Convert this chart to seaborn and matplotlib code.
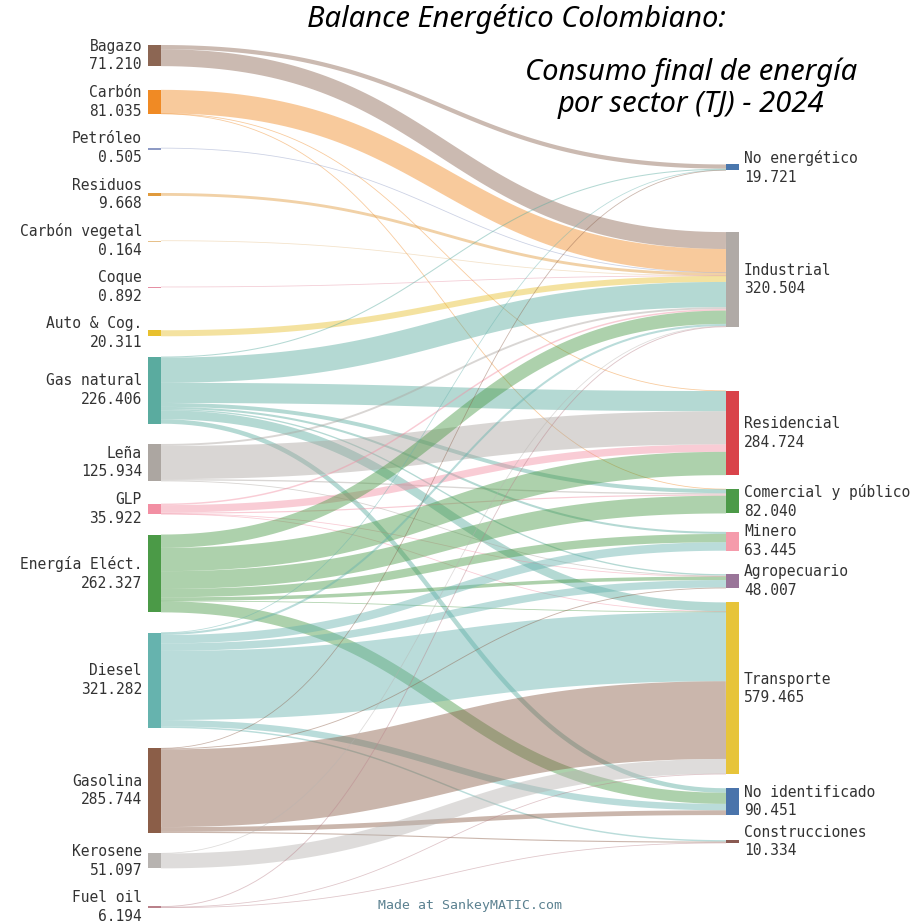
import numpy as np
import matplotlib
matplotlib.use("Agg")
import matplotlib.pyplot as plt
import seaborn as sns

# ---- data (TJ) ----
sources = ["Bagazo", "Carbón", "Petróleo", "Residuos", "Carbón vegetal", "Coque",
           "Auto & Cog.", "Gas natural", "Leña", "GLP", "Energía Eléct.", "Diesel",
           "Gasolina", "Kerosene", "Fuel oil"]
source_totals = [71.210, 81.035, 0.505, 9.668, 0.164, 0.892, 20.311, 226.406,
                 125.934, 35.922, 262.327, 321.282, 285.744, 51.097, 6.194]

sectors = ["No energético", "Industrial", "Residencial", "Comercial y público",
           "Minero", "Agropecuario", "Transporte", "No identificado", "Construcciones"]
sector_totals = [19.721, 320.504, 284.724, 82.040, 63.445, 48.007, 579.465, 90.451, 10.334]

flow_from = (["Bagazo"] * 2 + ["Carbón"] * 3 + ["Petróleo", "Residuos", "Carbón vegetal",
             "Coque", "Auto & Cog."] + ["Gas natural"] * 8 + ["Leña"] * 4 + ["GLP"] * 5
             + ["Energía Eléct."] * 7 + ["Diesel"] * 7 + ["Gasolina"] * 5
             + ["Kerosene"] * 2 + ["Fuel oil"] * 3)
flow_to = ["No energético", "Industrial",
           "Industrial", "Residencial", "Comercial y público",
           "Industrial", "Industrial", "Industrial", "Industrial", "Industrial",
           "No energético", "Industrial", "Residencial", "Comercial y público", "Minero",
           "Agropecuario", "Transporte", "No identificado",
           "Industrial", "Residencial", "Comercial y público", "Agropecuario",
           "Industrial", "Residencial", "Comercial y público", "Agropecuario", "Transporte",
           "Industrial", "Residencial", "Comercial y público", "Minero", "Agropecuario",
           "Transporte", "No identificado",
           "No energético", "Industrial", "Minero", "Agropecuario", "Transporte",
           "No identificado", "Construcciones",
           "No energético", "Agropecuario", "Transporte", "No identificado", "Construcciones",
           "Industrial", "Transporte",
           "Industrial", "Transporte", "Construcciones"]
flow_tj = [14.221, 56.989,
           79.500, 1.200, 0.335,
           0.505, 9.668, 0.164, 0.892, 20.311,
           3.500, 85.000, 68.000, 13.180, 7.000, 4.500, 30.000, 15.226,
           6.475, 112.000, 4.525, 2.934,
           5.000, 25.000, 4.000, 0.500, 1.422,
           45.000, 78.524, 60.000, 28.000, 12.000, 1.300, 37.503,
           1.000, 7.000, 28.445, 25.073, 233.146, 21.722, 4.896,
           1.000, 3.000, 262.000, 16.000, 3.744,
           1.000, 50.097,
           3.000, 1.500, 1.694]

source_colors = ["#8c6653", "#f08a24", "#8d9ac4", "#e09a3c", "#e6c08a", "#e58fa3",
                 "#e8c02e", "#5aab9f", "#aca6a1", "#f28fa3", "#4b9a47", "#66b3ae",
                 "#8b5e48", "#b7b3b0", "#b9818a"]
sector_colors = ["#4a77ad", "#b0aaa6", "#d9434a", "#4c9a48", "#f59bab", "#9a7599",
                 "#e7c43a", "#4a74ab", "#8a5a52"]


def min_gaps(heights, pad, label_h):
    # nodes need `pad` between them, and their two-line labels must not collide
    return np.array([max(pad, label_h - (heights[i] + heights[i + 1]) / 2)
                     for i in range(len(heights) - 1)])


def isotonic(z):
    blocks = []
    for v in z:
        blocks.append([v, 1])
        while len(blocks) > 1 and blocks[-2][0] > blocks[-1][0]:
            v2, c2 = blocks.pop()
            v1, c1 = blocks.pop()
            blocks.append([(v1 * c1 + v2 * c2) / (c1 + c2), c1 + c2])
    out = []
    for v, c in blocks:
        out += [v] * c
    return np.array(out)


def sankey_layout(height, ky, pad, label_h):
    n_src = len(sources)
    flows = np.array(flow_tj, dtype=float)
    s_idx = np.array([sources.index(a) for a in flow_from])
    t_idx = np.array([sectors.index(b) for b in flow_to])
    width = flows * ky
    h_src = np.array(source_totals) * ky
    h_sec = np.array(sector_totals) * ky

    # left column: minimum gaps plus evenly shared slack
    g = min_gaps(h_src, pad, label_h)
    g += (height - h_src.sum() - g.sum()) / len(g)
    top_src = np.concatenate([[0], np.cumsum(h_src[:-1] + g)])

    # link offsets inside each node (links ordered by the node at the other end)
    src_off = np.zeros(len(flows))
    tgt_off = np.zeros(len(flows))
    for i in range(n_src):
        ks = sorted(np.where(s_idx == i)[0], key=lambda k: t_idx[k])
        src_off[ks] = np.concatenate([[0], np.cumsum(width[ks])[:-1]])
    for j in range(len(sectors)):
        ks = sorted(np.where(t_idx == j)[0], key=lambda k: s_idx[k])
        tgt_off[ks] = np.concatenate([[0], np.cumsum(width[ks])[:-1]])

    # right column: each node where its links would run flat, then resolve collisions
    link_top = top_src[s_idx] + src_off - tgt_off
    ideal = np.array([np.average(link_top[t_idx == j], weights=flows[t_idx == j])
                      for j in range(len(sectors))])
    g2 = min_gaps(h_sec, pad, label_h)
    offs = np.concatenate([[0], np.cumsum(h_sec[:-1] + g2)])
    z = np.clip(isotonic(ideal - offs), 0, height - offs[-1] - h_sec[-1])
    top_sec = z + offs

    sy = top_src[s_idx] + src_off + width / 2
    ty = top_sec[t_idx] + tgt_off + width / 2
    return top_src, h_src, top_sec, h_sec, s_idx, width, sy, ty


sns.set_theme(style="white")
plt.rcParams["font.family"] = ["DejaVu Sans"]

fig = plt.figure(figsize=(9.21, 9.23), dpi=100)
fig.patch.set_facecolor("white")
px_w, px_h = 921, 923
left_px, right_px, top_px, bottom_px = 148, 739, 45, 908
ax = fig.add_axes([left_px / px_w, 1 - bottom_px / px_h,
                   (right_px - left_px) / px_w, (bottom_px - top_px) / px_h])
H = bottom_px - top_px
ky = 0.515 * H / sum(source_totals)
top_src, h_src, top_sec, h_sec, s_idx, width, sy, ty = sankey_layout(H, ky, pad=14, label_h=40)

span = right_px - left_px
nw = 13 / span

# links (stroked cubic curves, like SVG paths)
t = np.linspace(0, 1, 80)
xs, xt = nw, 1 - nw
xm = (xs + xt) / 2
bx = (1 - t) ** 3 * xs + 3 * (1 - t) ** 2 * t * xm + 3 * (1 - t) * t ** 2 * xm + t ** 3 * xt
for k in range(len(flow_tj)):
    by = ((1 - t) ** 3 + 3 * (1 - t) ** 2 * t) * sy[k] + (3 * (1 - t) * t ** 2 + t ** 3) * ty[k]
    ax.plot(bx, by, color=source_colors[s_idx[k]], alpha=0.45,
            lw=max(width[k], 0.8) * 72 / 100, solid_capstyle="butt", zorder=1)

# nodes
ax.bar(np.zeros(len(sources)), np.maximum(h_src, 1.5), bottom=top_src, width=nw,
       align="edge", color=source_colors, edgecolor="none", zorder=2)
ax.bar(np.full(len(sectors), 1 - nw), np.maximum(h_sec, 1.5), bottom=top_sec, width=nw,
       align="edge", color=sector_colors, edgecolor="none", zorder=2)

# labels
label_font = dict(family="DejaVu Sans Mono", fontsize=10.5, color="#333333", linespacing=1.3)
for i, name in enumerate(sources):
    ax.text(-6 / span, top_src[i] + h_src[i] / 2, f"{name}\n{source_totals[i]:.3f}",
            ha="right", va="center", multialignment="right", **label_font)
for j, name in enumerate(sectors):
    ax.text(1 + 5 / span, top_sec[j] + h_sec[j] / 2, f"{name}\n{sector_totals[j]:.3f}",
            ha="left", va="center", multialignment="left", **label_font)

ax.set_xlim(0, 1)
ax.set_ylim(H, 0)
ax.axis("off")

title_font = dict(family=["Noto Sans", "DejaVu Sans"], style="italic", weight="medium",
                  fontsize=21, color="black")
fig.text(516 / px_w, 1 - 19 / px_h, "Balance Energético Colombiano:", ha="center", va="center",
         **title_font)
fig.text(691 / px_w, 1 - 88 / px_h, "Consumo final de energía\npor sector (TJ) - 2024",
         ha="center", va="center", multialignment="center", linespacing=1.15, **title_font)
fig.text(470 / px_w, 1 - 905 / px_h, "Made at SankeyMATIC.com", ha="center", va="center",
         family="DejaVu Sans Mono", fontsize=9.5, color="#5b8190")

fig.savefig("out.png", dpi=100, facecolor="white")
